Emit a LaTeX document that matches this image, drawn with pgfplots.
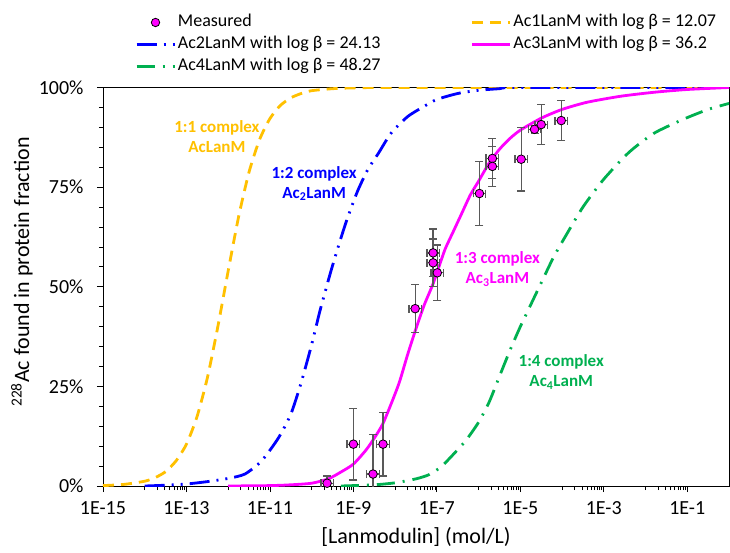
\documentclass[border=0pt]{standalone}
\usepackage{fontspec}
\setmainfont{Carlito}
\usepackage{pgfplots}
\usepackage{pgfplotstable}
\pgfplotsset{compat=1.18}
\definecolor{cyel}{HTML}{FFC000}
\definecolor{cblu}{HTML}{0000FF}
\definecolor{cmag}{HTML}{FF00FF}
\definecolor{cgrn}{HTML}{00B050}
\definecolor{cerr}{HTML}{595959}

\pgfplotstableread{
x y ey ex
-9.63 0.7 1.8 0.15
-9.00 10.5 9.0 0.15
-8.53 3.0 10 0.15
-8.29 10.5 8.0 0.15
-7.52 44.5 6.0 0.15
-7.09 58.5 6.0 0.15
-7.09 56.0 6.0 0.15
-6.99 53.5 7.0 0.15
-5.98 73.4 8.0 0.15
-5.67 82.2 5.0 0.15
-5.67 80.2 5.0 0.15
-4.98 82.0 8.0 0.15
-4.66 89.5 1.0 0.15
-4.50 90.7 5.0 0.15
-4.02 91.7 5.0 0.15
}\measured

\pgfplotstableread{
x y
-15 0.1
-14.5 0.4
-14 1.2
-13.75 2.1
-13.5 3.6
-13.25 6.3
-13 10.5
-12.75 17.3
-12.5 27.1
-12.25 39.9
-12 54.0
-11.75 67.6
-11.5 78.8
-11.25 86.9
-11 92.2
-10.75 95.5
-10.5 97.4
-10.25 98.5
-10 99.2
-9.5 99.7
-9 99.9
-8 100
0 100
}\acone

\pgfplotstableread{
x y
-14 0
-13.5 0.2
-13 0.5
-12.5 1.1
-12 1.9
-11.6 3
-11.2 6.3
-10.8 12
-10.5 18
-10.25 26
-10.0 35.5
-9.8 44
-9.55 53.5
-9.35 60.5
-9.15 67
-8.9 74
-8.65 79.5
-8.4 83.5
-8.1 88.5
-7.7 92.7
-7.3 95.3
-7.0 97
-6.5 98.5
-6.0 99.3
-5.5 99.7
-5.0 100
0 100
}\actwo

\pgfplotstableread{
x y
-12 0
-11 0.1
-10.5 0.3
-10 0.7
-9.6 1.8
-9.3 3.5
-9.0 5.5
-8.7 9
-8.5 12
-8.3 15.5
-8.1 20.5
-7.9 26
-7.7 33
-7.5 39.5
-7.3 45.5
-7.1 50.5
-6.95 55
-6.8 59.5
-6.6 64
-6.4 68.5
-6.2 73
-6.0 76.5
-5.75 81
-5.5 84.5
-5.25 87.2
-5.0 89.3
-4.5 92.3
-4.0 94.5
-3.4 96.3
-2.6 97.8
-1.8 98.8
-1.0 99.5
0 100
}\acthree

\pgfplotstableread{
x y
-9.3 0
-8.5 0.3
-8.0 0.8
-7.5 1.8
-7.2 2.8
-6.9 4.8
-6.6 8
-6.3 11.5
-6.0 16
-5.75 21
-5.5 27.5
-5.25 34
-5.0 40
-4.75 45.5
-4.5 51
-4.2 57.5
-3.9 63
-3.5 70
-3.0 77
-2.4 83.7
-1.8 88.5
-1.1 92
-0.5 94.5
0 96
}\acfour

\begin{document}
\begin{tikzpicture}
\path[use as bounding box] (-103pt,-66pt) rectangle (627pt,486pt);
\begin{axis}[
  at={(0pt,0pt)}, anchor=south west,
  scale only axis, width=626pt, height=398.5pt,
  xmin=-15, xmax=0, ymin=0, ymax=100,
  xtick={-15,-13,-11,-9,-7,-5,-3,-1},
  xticklabels={1E-15,1E-13,1E-11,1E-9,1E-7,1E-5,1E-3,1E-1},
  minor xtick={-14,-13.699,-13.523,-13.398,-13.301,-13.222,-13.155,-13.097,-13.046,
    -12,-11.699,-11.523,-11.398,-11.301,-11.222,-11.155,-11.097,-11.046,
    -10,-9.699,-9.523,-9.398,-9.301,-9.222,-9.155,-9.097,-9.046,
    -8,-7.699,-7.523,-7.398,-7.301,-7.222,-7.155,-7.097,-7.046,
    -6,-5.699,-5.523,-5.398,-5.301,-5.222,-5.155,-5.097,-5.046,
    -4,-3.699,-3.523,-3.398,-3.301,-3.222,-3.155,-3.097,-3.046,
    -2,-1.699,-1.523,-1.398,-1.301,-1.222,-1.155,-1.097,-1.046},
  ytick={0,25,50,75,100},
  yticklabels={0\%,25\%,50\%,75\%,100\%},
  minor ytick={5,10,15,20,30,35,40,45,55,60,65,70,80,85,90,95},
  tick align=outside, tick pos=left,
  major tick length=6pt, minor tick length=4pt,
  every tick/.style={black, line width=0.8pt},
  axis line style={line width=0.8pt},
  /pgf/number format/assume math mode=true,
  tick label style={font=\fontsize{20}{24}\selectfont},
  yticklabel style={xshift=-10pt},
  xticklabel style={yshift=-6pt},
  xlabel={[Lanmodulin] (mol/L)},
  ylabel={\textsuperscript{228}Ac found in protein fraction},
  label style={font=\fontsize{22}{26}\selectfont},
  xlabel style={at={(axis description cs:0.5,0)}, anchor=center, yshift=-51pt},
  ylabel style={at={(axis description cs:0,0.537)}, anchor=center, yshift=81pt},
  legend columns=2,
  legend image code/.code={\draw[#1] (0pt,0pt) -- (38pt,0pt);},
  legend style={draw=none, fill=none, at={(axis description cs:0.051,1.19)}, anchor=north west,
    inner sep=0pt, row sep=1pt,
    font=\fontsize{18}{20}\selectfont,
    nodes={inner sep=2pt, text height=13pt, text depth=4pt},
    /tikz/every even column/.append style={column sep=88pt}},
  legend cell align=left,
]
\addlegendimage{legend image code/.code={\draw[draw=black,fill=cmag,line width=0.8pt] (19pt,0pt) circle (4.2pt);}}
\addlegendentry{Measured}
\addlegendimage{cyel, line width=2.8pt, dash pattern=on 11pt off 7pt}
\addlegendentry{Ac1LanM with log β = 12.07}
\addlegendimage{cblu, line width=2.8pt, dash pattern=on 20pt off 7pt on 2pt off 7pt on 2pt off 7pt}
\addlegendentry{Ac2LanM with log β = 24.13}
\addlegendimage{cmag, line width=2.8pt}
\addlegendentry{Ac3LanM with log β = 36.2}
\addlegendimage{cgrn, line width=2.8pt, dash pattern=on 18pt off 8pt on 2pt off 8pt}
\addlegendentry{Ac4LanM with log β = 48.27}

\addplot[cyel, line width=2.8pt, dash pattern=on 11pt off 7pt, smooth, tension=0.4, forget plot] table[x=x,y=y] {\acone};
\addplot[cblu, line width=2.8pt, dash pattern=on 20pt off 7pt on 2pt off 7pt on 2pt off 7pt, smooth, tension=0.4, forget plot] table[x=x,y=y] {\actwo};
\addplot[cgrn, line width=2.8pt, dash pattern=on 18pt off 8pt on 2pt off 8pt, smooth, tension=0.4, forget plot] table[x=x,y=y] {\acfour};
\addplot[cmag, line width=2.8pt, smooth, tension=0.4, forget plot] table[x=x,y=y] {\acthree};

\addplot[only marks, mark=*, mark size=4.3pt, mark options={fill=cmag, draw=black, line width=0.8pt}, forget plot,
  error bars/.cd, y dir=both, y explicit, x dir=both, x explicit,
  error bar style={cerr, line width=1.3pt},
  error mark options={cerr, line width=1.3pt, mark size=4pt, rotate=90}]
  table[x=x, y=y, y error=ey, x error=ex] {\measured};

\node[font=\fontsize{17}{20}\selectfont\bfseries, text=cyel, align=center] at (axis cs:-12.27,87.7) {1:1 complex\\AcLanM};
\node[font=\fontsize{17}{20}\selectfont\bfseries, text=cblu, align=center] at (axis cs:-9.94,75.9) {1:2 complex\\Ac\textsubscript{2}LanM};
\node[font=\fontsize{17}{20}\selectfont\bfseries, text=cmag, align=center] at (axis cs:-5.55,54.4) {1:3 complex\\Ac\textsubscript{3}LanM};
\node[font=\fontsize{17}{20}\selectfont\bfseries, text=cgrn, align=center] at (axis cs:-4.02,28.6) {1:4 complex\\Ac\textsubscript{4}LanM};
\end{axis}
\end{tikzpicture}
\end{document}
